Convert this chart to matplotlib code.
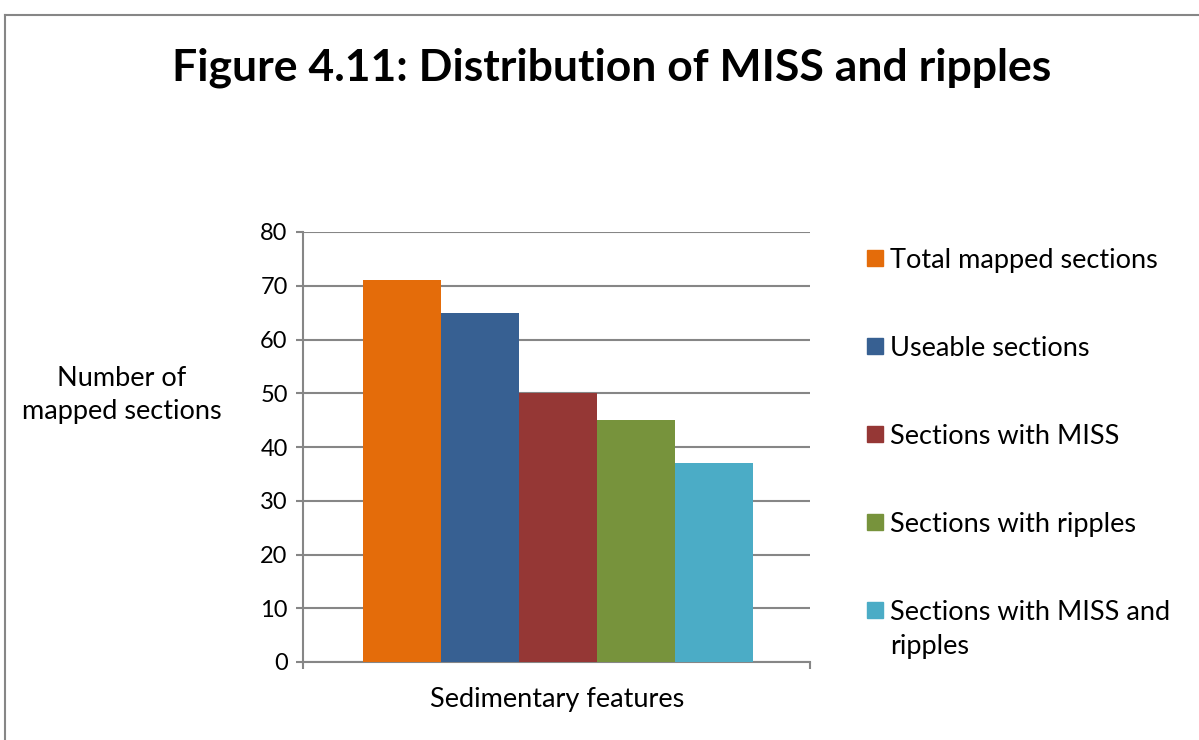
import matplotlib
matplotlib.use("Agg")
import matplotlib.pyplot as plt
from matplotlib.lines import Line2D
from matplotlib.patches import Rectangle

plt.rcParams['font.family'] = ['Lato', 'DejaVu Sans']

# données du graphique
series = ["Total mapped sections", "Useable sections", "Sections with MISS",
          "Sections with ripples", "Sections with MISS and\nripples"]
valeurs = [71, 65, 50, 45, 37]
couleurs = ["#E46C0A", "#376092", "#953735", "#77933C", "#4BACC6"]
graduations = [0, 10, 20, 30, 40, 50, 60, 70, 80]

W, H = 1199, 740
fig = plt.figure(figsize=(W / 100, H / 100), dpi=100)
gris = "#868686"

# cadre du graphique (haut et gauche seulement visibles)
fig.add_artist(Line2D([5 / W, 1], [1 - 15 / H, 1 - 15 / H], color=gris, lw=1.5, transform=fig.transFigure))
fig.add_artist(Line2D([5 / W, 5 / W], [0, 1 - 15 / H], color=gris, lw=1.5, transform=fig.transFigure))

ax = fig.add_axes([303 / W, 1 - 662 / H, (810 - 303) / W, (662 - 232) / H])

for i in range(len(series)):
    ax.bar(i, valeurs[i], width=1.0, color=couleurs[i], label=series[i], zorder=3)

ax.set_xlim(-1.27, len(series) - 1 + 1.23)
ax.set_ylim(graduations[0], graduations[-1])
ax.set_yticks(graduations)
ax.set_xticks(ax.get_xlim())
ax.set_xticklabels(["", ""])
ax.yaxis.grid(True, color=gris, lw=1.5, zorder=0)

for s in ["top", "right"]:
    ax.spines[s].set_visible(False)
for s in ["left", "bottom"]:
    ax.spines[s].set_color(gris)
    ax.spines[s].set_linewidth(1.5)
ax.tick_params(axis="y", direction="out", length=5, width=1.5, color=gris, labelsize=17, pad=6)
ax.tick_params(axis="x", direction="out", length=5, width=1.5, color=gris)

fig.text(612 / W, 1 - 68 / H, "Figure 4.11: Distribution of MISS and ripples",
         ha="center", va="center", fontsize=32, fontweight="bold")
fig.text(122 / W, 1 - 395 / H, "Number of\nmapped sections", ha="center", va="center",
         multialignment="center", fontsize=19.5, linespacing=1.45)
fig.text(557 / W, 1 - 700 / H, "Sedimentary features", ha="center", va="center", fontsize=19.5)

# légende dessinée à la main (carré aligné sur la première ligne)
for i in range(len(series)):
    yc = 258 + 88 * i
    fig.add_artist(Rectangle((867 / W, 1 - (yc + 8) / H), 16 / W, 16 / H,
                             color=couleurs[i], transform=fig.transFigure))
    fig.text(890 / W, 1 - (yc - 10) / H, series[i], ha="left", va="top",
             fontsize=19.5, linespacing=1.45)

plt.savefig("out.png", dpi=100)
plt.close()
